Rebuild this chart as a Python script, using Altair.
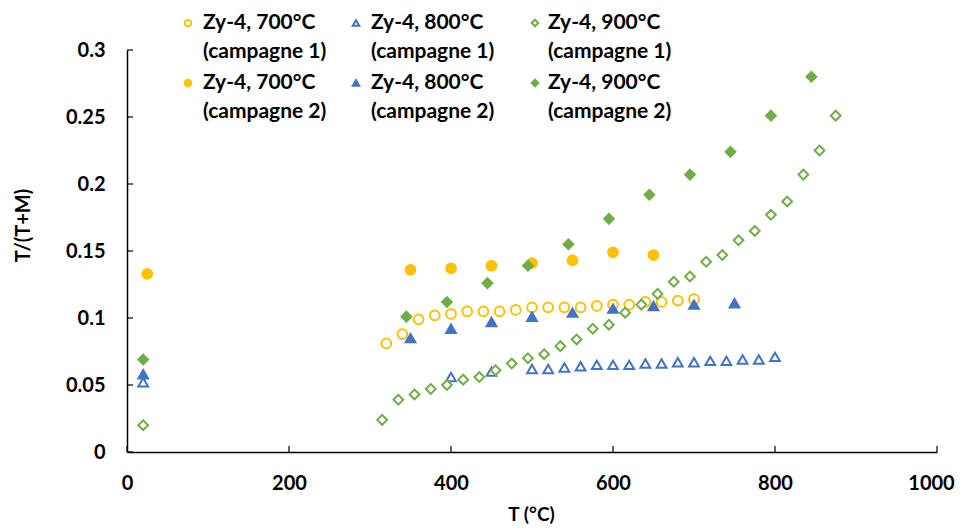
import altair as alt
import pandas as pd

# ---- data ----
T_700_c1 = [320, 340, 360, 380, 400, 420, 440, 460, 480, 500, 520, 540, 560, 580, 600, 620, 640, 660, 680, 700]
R_700_c1 = [0.081, 0.088, 0.099, 0.102, 0.103, 0.105, 0.105, 0.105, 0.106, 0.108, 0.108, 0.108, 0.108, 0.109,
            0.110, 0.110, 0.112, 0.112, 0.113, 0.114]

T_700_c2 = [25, 350, 400, 450, 500, 550, 600, 650]
R_700_c2 = [0.133, 0.136, 0.137, 0.139, 0.141, 0.143, 0.149, 0.147]

T_800_c1 = [20, 400, 450, 500, 520, 540, 560, 580, 600, 620, 640, 660, 680, 700, 720, 740, 760, 780, 800]
R_800_c1 = [0.052, 0.056, 0.060, 0.062, 0.062, 0.063, 0.064, 0.065, 0.065, 0.065, 0.066, 0.066, 0.067,
            0.067, 0.068, 0.068, 0.069, 0.069, 0.071]

T_800_c2 = [20, 350, 400, 450, 500, 550, 600, 650, 700, 750]
R_800_c2 = [0.058, 0.085, 0.092, 0.097, 0.101, 0.104, 0.107, 0.109, 0.110, 0.111]

T_900_c1 = [20, 315, 335, 355, 375, 395, 415, 435, 455, 475, 495, 515, 535, 555, 575, 595, 615, 635, 655,
            675, 695, 715, 735, 755, 775, 795, 815, 835, 855, 875]
R_900_c1 = [0.020, 0.024, 0.039, 0.043, 0.047, 0.050, 0.054, 0.056, 0.061, 0.066, 0.070, 0.073, 0.079,
            0.084, 0.092, 0.095, 0.104, 0.110, 0.118, 0.127, 0.131, 0.142, 0.147, 0.158, 0.165, 0.177,
            0.187, 0.207, 0.225, 0.251]

T_900_c2 = [20, 345, 395, 445, 495, 545, 595, 645, 695, 745, 795, 845]
R_900_c2 = [0.069, 0.101, 0.112, 0.126, 0.139, 0.155, 0.174, 0.192, 0.207, 0.224, 0.251, 0.280]

series_names = [
    "Zy-4, 700°C|(campagne 1)",
    "Zy-4, 800°C|(campagne 1)",
    "Zy-4, 900°C|(campagne 1)",
    "Zy-4, 700°C|(campagne 2)",
    "Zy-4, 800°C|(campagne 2)",
    "Zy-4, 900°C|(campagne 2)",
]
stroke_colors = ["#FFC000", "#4472C4", "#70AD47", "#FFC000", "#4472C4", "#70AD47"]
fill_colors = ["white", "white", "white", "#FFC000", "#4472C4", "#70AD47"]
shapes = ["circle", "triangle-up", "diamond", "circle", "triangle-up", "diamond"]

x_ticks = [0, 200, 400, 600, 800, 1000]
y_ticks = [0, 0.05, 0.1, 0.15, 0.2, 0.25, 0.3]

pairs = [(T_700_c1, R_700_c1), (T_800_c1, R_800_c1), (T_900_c1, R_900_c1),
         (T_700_c2, R_700_c2), (T_800_c2, R_800_c2), (T_900_c2, R_900_c2)]
rows = []
for name, (ts, rs) in zip(series_names, pairs):
    for t, r in zip(ts, rs):
        rows.append({"T": t, "R": r, "series": name})
df = pd.DataFrame(rows)

FONT = "Lato"
W, H = 810, 402

xscale = alt.Scale(domain=[0, 1000], nice=False)
yscale = alt.Scale(domain=[0, 0.3], nice=False)

points = alt.Chart(df).mark_point(size=95, strokeWidth=2, opacity=1).encode(
    x=alt.X("T:Q", scale=xscale, title="T (°C)",
            axis=alt.Axis(values=x_ticks, ticks=False, grid=False, labelPadding=21, labelFlush=False,
                          labelOffset=alt.condition("datum.value == 1000", alt.value(-6), alt.value(0)),
                          format="d", titleX=404, titleY=62, titleBaseline="middle", titleFontSize=19)),
    y=alt.Y("R:Q", scale=yscale, title="T/(T+M)",
            axis=alt.Axis(values=y_ticks, ticks=False, grid=False, labelPadding=22, labelFlush=False,
                          format=".2~f", titleX=-104, titleY=175, titleBaseline="middle")),
    stroke=alt.Stroke("series:N", scale=alt.Scale(domain=series_names, range=stroke_colors), legend=None),
    fill=alt.Fill("series:N", scale=alt.Scale(domain=series_names, range=fill_colors), legend=None),
    shape=alt.Shape("series:N", scale=alt.Scale(domain=series_names, range=shapes), legend=None),
)

xt = alt.Chart(pd.DataFrame({"v": x_ticks})).mark_rule(color="black", strokeWidth=1.2).encode(
    x=alt.X("v:Q", scale=xscale), y=alt.value(H), y2=alt.value(H - 6))
yt = alt.Chart(pd.DataFrame({"v": y_ticks})).mark_rule(color="black", strokeWidth=1.2).encode(
    y=alt.Y("v:Q", scale=yscale), x=alt.value(0), x2=alt.value(6))

# ---- legend drawn as a 3x2 grid above/inside the plot (layout in pixels) ----
LEG_SYM_X = [61, 229, 408]
LEG_TXT_X = [76, 244, 421]
LEG_ROW_Y = [-27, 33]
LINE_H = 29
legend_layers = []
for i, name in enumerate(series_names):
    col, row = i % 3, i // 3
    one = pd.DataFrame({"label": [name]})
    legend_layers.append(
        alt.Chart(one).mark_point(size=42, strokeWidth=2, opacity=1, shape=shapes[i],
                                  stroke=stroke_colors[i], fill=fill_colors[i]).encode(
            x=alt.value(LEG_SYM_X[col]), y=alt.value(LEG_ROW_Y[row]))
    )
    legend_layers.append(
        alt.Chart(one).mark_text(align="left", baseline="middle", lineBreak="|", lineHeight=LINE_H,
                                 font=FONT, fontSize=21, fontWeight="bold", color="black").encode(
            x=alt.value(LEG_TXT_X[col]), y=alt.value(LEG_ROW_Y[row]), text="label:N")
    )

chart = alt.layer(xt, yt, points, *legend_layers).properties(
    width=W, height=H,
    autosize=alt.AutoSizeParams(type="none"),
    padding={"left": 119, "top": 42, "right": 18, "bottom": 72},
).configure_view(stroke=None).configure_axis(
    labelFont=FONT, labelFontSize=20, labelFontWeight="bold", labelColor="black",
    titleFont=FONT, titleFontSize=20, titleFontWeight="bold", titleColor="black",
    domainColor="black", domainWidth=1.5,
)

chart.save("out.html", embed_options={"renderer": "svg", "actions": False})
